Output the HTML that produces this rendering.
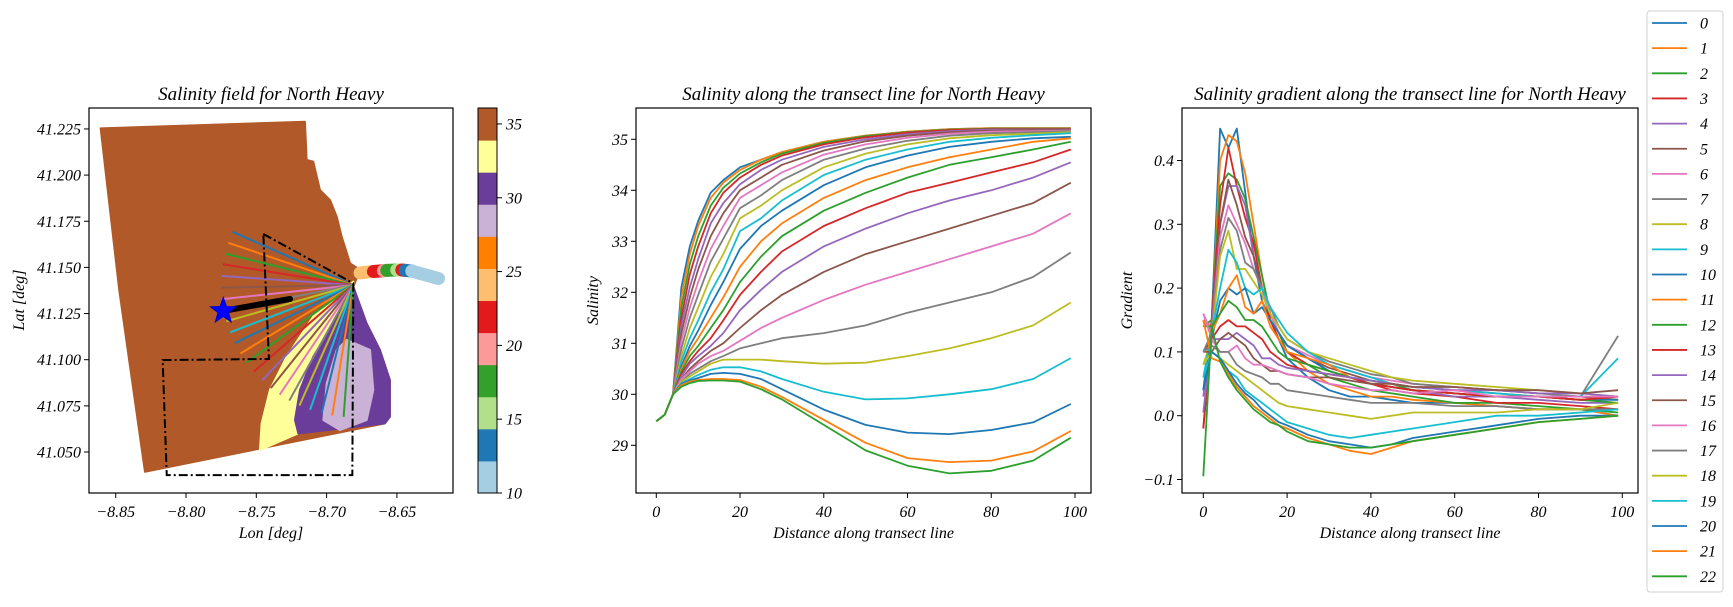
<!DOCTYPE html>
<html><head><meta charset="utf-8"><style>
html,body{margin:0;padding:0;background:#fff}
svg text{font-family:"Liberation Serif",serif;font-style:italic;fill:#000}
</style></head><body>
<svg id="fig" xmlns="http://www.w3.org/2000/svg" width="1733" height="602" viewBox="0 0 1733 602">
<rect width="1733" height="602" fill="#fff"/>
<g id="map"></g>
<g id="mid"></g>
<g id="right"></g>
<g id="legend"></g>
</svg>
<script>
const NS="http://www.w3.org/2000/svg";
function el(tag,attrs,parent,txt){const e=document.createElementNS(NS,tag);for(const k in attrs)e.setAttribute(k,attrs[k]);if(txt!==undefined)e.textContent=txt;parent.appendChild(e);return e;}
const tab10=["#1f77b4","#ff7f0e","#2ca02c","#d62728","#9467bd","#8c564b","#e377c2","#7f7f7f","#bcbd22","#17becf"];
const paired=["#a6cee3","#1f78b4","#b2df8a","#33a02c","#fb9a99","#e31a1c","#fdbf6f","#ff7f00","#cab2d6","#6a3d9a","#ffff99","#b15928"];

/* ---------- MAP DATA (lon/lat) ---------- */
const domainLon=[-8.8607,-8.7154,-8.7142,-8.7095,-8.7047,-8.6976,-8.6928,-8.6893,-8.6833,-8.6762,-8.681,-8.6716,-8.6621,-8.655,-8.655,-8.6586,-8.8292,-8.8475];
const domainLat=[41.2253,41.2289,41.2082,41.2073,41.1919,41.1865,41.1775,41.1667,41.1522,41.1486,41.1395,41.1197,41.1053,41.0890,41.0691,41.0655,41.0393,41.1378];
const yellowLon=[-8.681,-8.7095,-8.7284,-8.7403,-8.7462,-8.7474,-8.7201,-8.7225,-8.7189,-8.7095,-8.6952,-8.681];
const yellowLat=[41.1423,41.1233,41.1016,41.0836,41.0655,41.0511,41.0601,41.0673,41.0836,41.1016,41.1197,41.1395];
const purpleLon=[-8.681,-8.6952,-8.7095,-8.7189,-8.7225,-8.7201,-8.6586,-8.655,-8.655,-8.6621,-8.6716];
const purpleLat=[41.1395,41.1197,41.1016,41.0836,41.0673,41.0601,41.0655,41.0691,41.0890,41.1053,41.1197];
const lavLon=[-8.6857,-8.6691,-8.6668,-8.6715,-8.6905,-8.7023,-8.6999,-8.6928];
const lavLat=[41.1107,41.1053,41.0836,41.0673,41.0619,41.0673,41.0872,41.1053];
const plumeLon=[-8.6762,-8.6667,-8.6596,-8.6572,-8.6501,-8.6465,-8.6441,-8.6394,-8.6204];
const plumeLat=[41.1470,41.1478,41.1482,41.1484,41.1486,41.1486,41.1484,41.1480,41.1440];
const plumeColorIdx=[6,5,4,3,2,5,1,0];
const boxLon=[-8.745,-8.681,-8.6817,-8.8137,-8.8166,-8.741,-8.745];
const boxLat=[41.1681,41.1414,41.0375,41.0375,41.0998,41.1004,41.1681];
const hubLon=-8.681, hubLat=41.1404;
const transectAngles=[23.8,18.7,13.8,9.1,4.0,-1.1,-6.1,-11.0,-15.9,-21.0,-26.1,-31.2,-35.9,-41.0,-46.2,-51.3,-56.1,-61.0,-65.9,-70.9,-76.1,-80.8,-85.8];
const starLon=-8.7735, starLat=41.1264, pathEndLon=-8.726, pathEndLat=41.1329;
const lonTicks=[-8.85,-8.80,-8.75,-8.70,-8.65];
const latTicks=[41.050,41.075,41.100,41.125,41.150,41.175,41.200,41.225];
const cbTicks=[10,15,20,25,30,35];

const mx=lon=>115.7+(lon+8.85)*1406;
const my=lat=>359.7-(lat-41.1)*1846;
const map=document.getElementById('map');
const M={l:89,r:453,t:108,b:493};
el('defs',{},map).innerHTML='<clipPath id="mapclip"><rect x="89" y="108" width="364" height="385"/></clipPath>';
const mg=el('g',{'clip-path':'url(#mapclip)'},map);
function poly(lons,lats,fill,name){const p=el('polygon',{points:lons.map((v,i)=>mx(v)+','+my(lats[i])).join(' '),fill:fill,stroke:fill,'stroke-width':2,'stroke-linejoin':'round'},mg);

}
poly(domainLon,domainLat,paired[11],'salinity-35-region');
poly(yellowLon,yellowLat,paired[10],'salinity-33-region');
poly(purpleLon,purpleLat,paired[9],'salinity-30-region');
poly(lavLon,lavLat,paired[8],'salinity-28-region');
for(let i=0;i<plumeColorIdx.length;i++){
  const s=el('line',{x1:mx(plumeLon[i]),y1:my(plumeLat[i]),x2:mx(plumeLon[i+1]),y2:my(plumeLat[i+1]),stroke:paired[plumeColorIdx[i]],'stroke-width':13,'stroke-linecap':'round'},mg);
  
  
}
transectAngles.forEach((a,i)=>{
  const r=a*Math.PI/180,x0=mx(hubLon),y0=my(hubLat),L=132;
  const ln=el('line',{x1:x0,y1:y0,x2:x0-L*Math.cos(r),y2:y0-L*Math.sin(r),stroke:tab10[i%10],'stroke-width':2},mg);
  
  
});
const bp=el('polyline',{points:boxLon.map((v,i)=>mx(v)+','+my(boxLat[i])).join(' '),fill:'none',stroke:'#000','stroke-width':2,'stroke-dasharray':'9,3,2,3'},mg);


const pth=el('line',{x1:mx(starLon),y1:my(starLat),x2:mx(pathEndLon),y2:my(pathEndLat),stroke:'#000','stroke-width':6,'stroke-linecap':'round'},mg);


(function(){const cx=mx(starLon),cy=my(starLat),R=13.5,r=5.5;let pts=[];for(let k=0;k<10;k++){const ang=-Math.PI/2+k*Math.PI/5,rr=k%2?r:R;pts.push((cx+rr*Math.cos(ang))+','+(cy+rr*Math.sin(ang)));}
const st=el('polygon',{points:pts.join(' '),fill:'#0000ff',stroke:'#0000cc','stroke-width':1},mg);

})();
el('rect',{x:M.l,y:M.t,width:M.r-M.l,height:M.b-M.t,fill:'none',stroke:'#000','stroke-width':1.2},map);
lonTicks.forEach(v=>{const x=mx(v);el('line',{x1:x,y1:M.b,x2:x,y2:M.b+5,stroke:'#000'},map);
const t=el('text',{x:x,y:517,'font-size':16,'text-anchor':'middle'},map,'−'+Math.abs(v).toFixed(2));});
latTicks.forEach(v=>{const y=my(v);el('line',{x1:M.l-5,y1:y,x2:M.l,y2:y,stroke:'#000'},map);
const t=el('text',{x:M.l-8,y:y+5.5,'font-size':16,'text-anchor':'end'},map,v.toFixed(3));});
el('text',{x:271,y:100,'font-size':19,'text-anchor':'middle',},map,'Salinity field for North Heavy');
el('text',{x:271,y:538,'font-size':16,'text-anchor':'middle',},map,'Lon [deg]');
el('text',{x:0,y:0,'font-size':16,'text-anchor':'middle',transform:'translate(24,300) rotate(-90)',},map,'Lat [deg]');
/* colorbar */
const CB={l:478,r:497,t:108,b:493,vmin:10,vmax:36.08};
const cy=v=>CB.b-(v-CB.vmin)/(CB.vmax-CB.vmin)*(CB.b-CB.t);
for(let i=0;i<12;i++){const v0=CB.vmin+i*(CB.vmax-CB.vmin)/12,v1=v0+(CB.vmax-CB.vmin)/12;
const r=el('rect',{x:CB.l,y:cy(v1),width:CB.r-CB.l,height:cy(v0)-cy(v1)+0.5,fill:paired[i]},map);
}
el('rect',{x:CB.l,y:CB.t,width:CB.r-CB.l,height:CB.b-CB.t,fill:'none',stroke:'#000','stroke-width':1,},map);
cbTicks.forEach(v=>{const y=cy(v);el('line',{x1:CB.r,y1:y,x2:CB.r+5,y2:y,stroke:'#000'},map);
const t=el('text',{x:CB.r+9,y:y+5.5,'font-size':16},map,String(v));});

/* ---------- SALINITY LINES ---------- */
const salX=[0,2,4,6,8,10,13,16,20,25,30,40,50,60,70,80,90,99];
const sal0=[29.47,29.6,30.0,32.1,32.9,33.4,33.95,34.2,34.45,34.6,34.75,34.95,35.07,35.15,35.2,35.22,35.22,35.22];
const sal1=[29.47,29.6,30.0,31.9,32.75,33.3,33.85,34.15,34.4,34.6,34.75,34.95,35.07,35.15,35.2,35.22,35.22,35.22];
const sal2=[29.47,29.6,30.0,31.7,32.55,33.1,33.7,34.05,34.33,34.55,34.72,34.93,35.06,35.14,35.19,35.21,35.21,35.21];
const sal3=[29.47,29.6,30.0,31.5,32.35,32.9,33.55,33.95,34.25,34.5,34.68,34.9,35.04,35.13,35.18,35.2,35.2,35.2];
const sal4=[29.47,29.6,30.0,31.35,32.1,32.65,33.35,33.75,34.12,34.4,34.6,34.85,35.0,35.1,35.16,35.19,35.19,35.19];
const sal5=[29.47,29.6,30.0,31.2,31.9,32.45,33.1,33.55,34.0,34.25,34.5,34.78,34.96,35.07,35.14,35.17,35.18,35.18];
const sal6=[29.47,29.6,30.0,31.05,31.7,32.2,32.85,33.3,33.85,34.1,34.35,34.7,34.9,35.03,35.11,35.15,35.16,35.17];
const sal7=[29.47,29.6,30.0,30.9,31.5,31.95,32.6,33.05,33.65,33.9,34.2,34.6,34.82,34.97,35.07,35.12,35.14,35.16];
const sal8=[29.47,29.6,30.0,30.75,31.3,31.7,32.3,32.75,33.45,33.7,34.0,34.45,34.72,34.9,35.02,35.08,35.11,35.14];
const sal9=[29.47,29.6,30.0,30.65,31.1,31.45,32.0,32.45,33.2,33.45,33.8,34.3,34.6,34.8,34.95,35.03,35.08,35.12];
const sal10=[29.47,29.6,30.0,30.55,30.95,31.25,31.75,32.2,32.85,33.3,33.6,34.1,34.45,34.68,34.85,34.95,35.02,35.05];
const sal11=[29.47,29.6,30.0,30.5,30.85,31.1,31.5,31.9,32.5,33.0,33.35,33.85,34.2,34.45,34.65,34.8,34.95,35.02];
const sal12=[29.47,29.6,30.0,30.45,30.75,30.95,31.3,31.65,32.2,32.7,33.1,33.6,33.95,34.25,34.5,34.65,34.8,34.95];
const sal13=[29.47,29.6,30.0,30.4,30.65,30.85,31.1,31.45,31.95,32.4,32.8,33.3,33.65,33.95,34.15,34.35,34.55,34.8];
const sal14=[29.47,29.6,30.0,30.35,30.6,30.75,30.95,31.2,31.65,32.05,32.4,32.9,33.25,33.55,33.8,34.0,34.25,34.55];
const sal15=[29.47,29.6,30.0,30.3,30.5,30.65,30.85,31.0,31.3,31.65,31.95,32.4,32.75,33.0,33.25,33.5,33.75,34.15];
const sal16=[29.47,29.6,30.0,30.3,30.45,30.6,30.75,30.85,31.05,31.3,31.5,31.85,32.15,32.4,32.65,32.9,33.15,33.55];
const sal17=[29.47,29.6,30.0,30.25,30.4,30.5,30.65,30.75,30.9,31.0,31.1,31.2,31.35,31.6,31.8,32.0,32.3,32.78];
const sal18=[29.47,29.6,30.0,30.25,30.35,30.45,30.6,30.68,30.68,30.68,30.65,30.6,30.62,30.75,30.9,31.1,31.35,31.8];
const sal19=[29.47,29.6,30.0,30.22,30.3,30.38,30.48,30.53,30.53,30.45,30.3,30.05,29.9,29.92,30.0,30.1,30.3,30.71];
const sal20=[29.47,29.6,30.0,30.2,30.27,30.32,30.4,30.42,30.4,30.3,30.1,29.7,29.4,29.25,29.22,29.3,29.45,29.81];
const sal21=[29.47,29.6,30.0,30.18,30.25,30.28,30.3,30.3,30.28,30.15,29.95,29.5,29.05,28.75,28.67,28.7,28.88,29.28];
const sal22=[29.47,29.6,30.0,30.15,30.22,30.26,30.27,30.27,30.25,30.1,29.9,29.4,28.9,28.6,28.45,28.5,28.7,29.15];
const salSeries=[sal0,sal1,sal2,sal3,sal4,sal5,sal6,sal7,sal8,sal9,sal10,sal11,sal12,sal13,sal14,sal15,sal16,sal17,sal18,sal19,sal20,sal21,sal22];
const salYTicks=[29,30,31,32,33,34,35];
const distTicks=[0,20,40,60,80,100];

/* ---------- GRADIENT LINES ---------- */
const gradX=[0,2,4,6,8,10,12,14,16,18,20,25,30,35,40,45,50,60,70,80,90,99];
const grad0=[0.04,0.15,0.45,0.42,0.45,0.35,0.25,0.18,0.15,0.12,0.09,0.06,0.04,0.03,0.03,0.025,0.02,0.02,0.015,0.01,0.01,0.0];
const grad1=[0.15,0.14,0.40,0.44,0.43,0.38,0.30,0.22,0.15,0.12,0.10,0.07,0.05,0.04,0.03,0.03,0.025,0.02,0.015,0.01,0.01,0.0];
const grad2=[0.14,0.15,0.36,0.38,0.37,0.34,0.28,0.22,0.16,0.13,0.10,0.08,0.06,0.05,0.04,0.035,0.03,0.02,0.02,0.015,0.01,0.005];
const grad3=[-0.02,0.15,0.33,0.42,0.36,0.31,0.27,0.2,0.15,0.12,0.1,0.08,0.07,0.06,0.05,0.04,0.035,0.03,0.02,0.02,0.015,0.01];
const grad4=[0.03,0.14,0.30,0.36,0.36,0.33,0.25,0.2,0.16,0.13,0.11,0.09,0.07,0.06,0.05,0.045,0.04,0.03,0.03,0.025,0.02,0.02];
const grad5=[0.1,0.12,0.30,0.37,0.33,0.28,0.25,0.2,0.16,0.13,0.11,0.09,0.075,0.065,0.055,0.05,0.045,0.04,0.035,0.03,0.03,0.025];
const grad6=[0.16,0.13,0.28,0.33,0.30,0.27,0.23,0.2,0.16,0.13,0.11,0.095,0.08,0.07,0.06,0.055,0.05,0.045,0.04,0.035,0.03,0.03];
const grad7=[0.1,0.13,0.26,0.31,0.29,0.24,0.23,0.2,0.17,0.14,0.12,0.10,0.085,0.075,0.065,0.06,0.05,0.045,0.04,0.035,0.03,0.125];
const grad8=[0.08,0.12,0.25,0.29,0.23,0.23,0.21,0.19,0.16,0.14,0.12,0.10,0.09,0.08,0.07,0.06,0.055,0.05,0.045,0.04,0.035,0.03];
const grad9=[0.06,0.13,0.2,0.26,0.24,0.20,0.19,0.2,0.17,0.15,0.13,0.10,0.08,0.07,0.06,0.05,0.045,0.04,0.035,0.03,0.03,0.09];
const grad10=[0.04,0.12,0.18,0.2,0.19,0.2,0.16,0.17,0.15,0.13,0.11,0.09,0.07,0.06,0.05,0.045,0.04,0.035,0.03,0.03,0.025,0.025];
const grad11=[0.15,0.13,0.16,0.2,0.22,0.17,0.16,0.18,0.14,0.12,0.1,0.09,0.08,0.06,0.05,0.045,0.04,0.035,0.03,0.03,0.025,0.03];
const grad12=[0.14,0.14,0.16,0.18,0.17,0.15,0.15,0.14,0.12,0.1,0.09,0.08,0.07,0.06,0.055,0.05,0.04,0.035,0.03,0.03,0.025,0.02];
const grad13=[-0.02,0.12,0.14,0.15,0.14,0.14,0.13,0.12,0.1,0.09,0.08,0.07,0.065,0.06,0.05,0.045,0.04,0.035,0.03,0.03,0.025,0.03];
const grad14=[0.005,0.12,0.12,0.12,0.13,0.12,0.11,0.09,0.09,0.08,0.075,0.07,0.065,0.06,0.055,0.05,0.045,0.04,0.04,0.035,0.035,0.03];
const grad15=[0.1,0.1,0.12,0.13,0.12,0.11,0.09,0.08,0.07,0.07,0.065,0.06,0.06,0.055,0.05,0.05,0.045,0.045,0.04,0.04,0.035,0.04];
const grad16=[0.16,0.12,0.1,0.1,0.11,0.09,0.08,0.08,0.075,0.07,0.065,0.06,0.05,0.045,0.04,0.04,0.035,0.04,0.03,0.03,0.03,0.03];
const grad17=[0.1,0.11,0.1,0.1,0.08,0.07,0.065,0.06,0.05,0.05,0.04,0.035,0.03,0.025,0.02,0.02,0.02,0.015,0.015,0.01,0.01,0.01];
const grad18=[0.08,0.1,0.09,0.08,0.07,0.06,0.05,0.04,0.03,0.02,0.015,0.01,0.005,0.0,-0.005,0.0,0.005,0.005,0.005,0.01,0.01,0.02];
const grad19=[0.06,0.1,0.09,0.07,0.06,0.04,0.03,0.02,0.01,0.0,-0.01,-0.02,-0.03,-0.035,-0.03,-0.025,-0.02,-0.01,0.0,0.0,0.005,0.01];
const grad20=[0.04,0.1,0.09,0.07,0.05,0.035,0.025,0.01,0.0,-0.01,-0.015,-0.03,-0.04,-0.045,-0.05,-0.045,-0.035,-0.025,-0.015,-0.005,0.0,0.0];
const grad21=[0.15,0.09,0.085,0.065,0.045,0.03,0.015,0.005,-0.005,-0.015,-0.02,-0.035,-0.045,-0.055,-0.06,-0.05,-0.04,-0.03,-0.02,-0.01,-0.005,0.0];
const grad22=[-0.095,0.14,0.085,0.06,0.04,0.025,0.01,0.0,-0.01,-0.015,-0.025,-0.04,-0.045,-0.05,-0.05,-0.045,-0.04,-0.03,-0.02,-0.01,-0.005,0.0];
const gradSeries=[grad0,grad1,grad2,grad3,grad4,grad5,grad6,grad7,grad8,grad9,grad10,grad11,grad12,grad13,grad14,grad15,grad16,grad17,grad18,grad19,grad20,grad21,grad22];
const gradYTicks=[-0.1,0.0,0.1,0.2,0.3,0.4];

function linePanel(g,box,xs,series,xScale,yScale,yTicks,yFmt,title,ylabel,prefix,ylabX){
  const clipId=prefix+'clip';
  el('defs',{},g).innerHTML='<clipPath id="'+clipId+'"><rect x="'+box.l+'" y="'+box.t+'" width="'+(box.r-box.l)+'" height="'+(box.b-box.t)+'"/></clipPath>';
  const cg=el('g',{'clip-path':'url(#'+clipId+')'},g);
  series.forEach((s,i)=>{
    const p=el('polyline',{points:s.map((v,j)=>xScale(xs[j]).toFixed(1)+','+yScale(v).toFixed(1)).join(' '),fill:'none',stroke:tab10[i%10],'stroke-width':1.8,'stroke-linejoin':'round'},cg);
    
    
  });
  el('rect',{x:box.l,y:box.t,width:box.r-box.l,height:box.b-box.t,fill:'none',stroke:'#000','stroke-width':1.2,},g);
  distTicks.forEach(v=>{const x=xScale(v);el('line',{x1:x,y1:box.b,x2:x,y2:box.b+5,stroke:'#000'},g);
    const t=el('text',{x:x,y:517,'font-size':16,'text-anchor':'middle'},g,String(v));});
  yTicks.forEach(v=>{const y=yScale(v);el('line',{x1:box.l-5,y1:y,x2:box.l,y2:y,stroke:'#000'},g);
    const t=el('text',{x:box.l-8,y:y+5.5,'font-size':16,'text-anchor':'end'},g,yFmt(v));});
  el('text',{x:(box.l+box.r)/2,y:100,'font-size':19,'text-anchor':'middle',},g,title);
  el('text',{x:(box.l+box.r)/2,y:538,'font-size':16,'text-anchor':'middle',},g,'Distance along transect line');
  el('text',{x:0,y:0,'font-size':16,'text-anchor':'middle',transform:'translate('+ylabX+','+((box.t+box.b)/2)+') rotate(-90)',},g,ylabel);
}
const MB={l:636,r:1091,t:108,b:493};
linePanel(document.getElementById('mid'),MB,salX,salSeries,d=>656.3+d*4.187,s=>139.3+(35-s)*51,salYTicks,v=>String(v),'Salinity along the transect line for North Heavy','Salinity','salinity',598);
const RB={l:1182,r:1638,t:108,b:493};
linePanel(document.getElementById('right'),RB,gradX,gradSeries,d=>1203.3+d*4.19,g=>415.7-g*638,gradYTicks,v=>(v<0?'−':'')+Math.abs(v).toFixed(1),'Salinity gradient along the transect line for North Heavy','Gradient','gradient',1132);

/* ---------- LEGEND ---------- */
const legendLabels=["0","1","2","3","4","5","6","7","8","9","10","11","12","13","14","15","16","17","18","19","20","21","22"];
const lg=document.getElementById('legend');
el('rect',{x:1647,y:11,width:76,height:581,rx:3,fill:'#fff',stroke:'#d0d0d0','stroke-width':1,},lg);
legendLabels.forEach((lab,i)=>{const y=23+25.15*i;
  const ln=el('line',{x1:1652,y1:y,x2:1687,y2:y,stroke:tab10[i%10],'stroke-width':1.8},lg);
  
  const t=el('text',{x:1700,y:y+5.5,'font-size':16},lg,lab);
  });
</script>
</body></html>
